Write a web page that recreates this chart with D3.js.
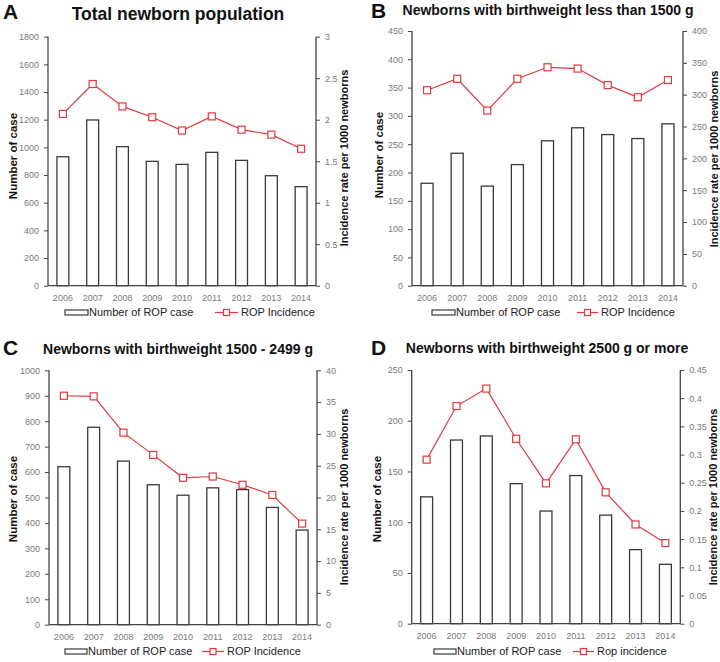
<!DOCTYPE html>
<html><head><meta charset="utf-8">
<script src="https://cdn.jsdelivr.net/npm/d3@7"></script>
<style>
body{margin:0;background:#fff;}
text{font-family:"Liberation Sans",Arial,sans-serif;}
</style></head>
<body><svg id="c" width="720" height="662"></svg>
<script>
const years = ["2006","2007","2008","2009","2010","2011","2012","2013","2014"];

const casesA = [932, 1198, 1005, 899, 877, 964, 906, 795, 716];
const rateA  = [2.07, 2.43, 2.16, 2.03, 1.87, 2.04, 1.88, 1.82, 1.65];
const leftTicksA  = [0,200,400,600,800,1000,1200,1400,1600,1800];
const rightTicksA = [0,0.5,1,1.5,2,2.5,3];

const casesB = [181, 234, 176, 214, 256, 279, 267, 260, 286];
const rateB  = [307, 325, 275, 325, 343, 341, 315, 296, 323];
const leftTicksB  = [0,50,100,150,200,250,300,350,400,450];
const rightTicksB = [0,50,100,150,200,250,300,350,400];

const casesC = [621, 776, 643, 550, 509, 538, 531, 461, 372];
const rateC  = [36.0, 35.9, 30.2, 26.7, 23.1, 23.3, 22.0, 20.4, 15.9];
const leftTicksC  = [0,100,200,300,400,500,600,700,800,900,1000];
const rightTicksC = [0,5,10,15,20,25,30,35,40];

const casesD = [125, 181, 185, 138, 111, 146, 107, 73, 58.5];
const rateD  = [0.291, 0.386, 0.417, 0.328, 0.249, 0.327, 0.233, 0.176, 0.143];
const leftTicksD  = [0,50,100,150,200,250];
const rightTicksD = [0,0.05,0.1,0.15,0.2,0.25,0.3,0.35,0.4,0.45];

const panels = [
 {letter:"A", title:"Total newborn population", cases:casesA, rate:rateA, lt:leftTicksA, rt:rightTicksA,
  legend2:"ROP Incidence",
  L:48, R:316, T:36.7, B:285.7, titleX:178, titleY:20, titleSize:17.5, letterX:3, letterY:19,
  lTitleX:17, lTitleY:156, rTitleX:348, rTitleY:158, legY:316, legX:[65,89,215,240]},
 {letter:"B", title:"Newborns with birthweight less than 1500 g", cases:casesB, rate:rateB, lt:leftTicksB, rt:rightTicksB,
  legend2:"ROP Incidence",
  L:412, R:683, T:31, B:285.7, titleX:548, titleY:15, titleSize:14, letterX:371, letterY:18,
  lTitleX:383, lTitleY:155, rTitleX:718, rTitleY:159, legY:316, legX:[432,456,577,600]},
 {letter:"C", title:"Newborns with birthweight 1500 - 2499 g", cases:casesC, rate:rateC, lt:leftTicksC, rt:rightTicksC,
  legend2:"ROP Incidence",
  L:49, R:317, T:370.3, B:624.7, titleX:178, titleY:354, titleSize:14, letterX:3, letterY:355,
  lTitleX:17, lTitleY:499, rTitleX:348, rTitleY:497, legY:655, legX:[65,88,202,226]},
 {letter:"D", title:"Newborns with birthweight 2500 g or more", cases:casesD, rate:rateD, lt:leftTicksD, rt:rightTicksD,
  legend2:"Rop incidence",
  L:411.7, R:680.3, T:370, B:623.7, titleX:547, titleY:353, titleSize:14, letterX:371, letterY:355,
  lTitleX:381, lTitleY:499, rTitleX:717, rTitleY:497, legY:655, legX:[434,457,573,596]}
];

const svg = d3.select("#c");
const axisCol = "#444", tickTextCol = "#7a7a7a", red = "#e0393e";

panels.forEach(p => {
  const g = svg.append("g");
  const x = d3.scaleBand().domain(years).range([p.L, p.R]).paddingInner(0.6).paddingOuter(0.3);
  const yL = d3.scaleLinear().domain([0, d3.max(p.lt)]).range([p.B, p.T]);
  const yR = d3.scaleLinear().domain([0, d3.max(p.rt)]).range([p.B, p.T]);

  // bars
  g.selectAll("rect.bar").data(p.cases).enter().append("rect")
    .attr("x", (d,i) => x(years[i])).attr("width", x.bandwidth())
    .attr("y", d => yL(d)).attr("height", d => p.B - yL(d))
    .attr("fill", "#fff").attr("stroke", "#3a3a3a").attr("stroke-width", 1.3);

  // axes
  const la = g.append("g").attr("transform", `translate(${p.L},0)`)
    .call(d3.axisLeft(yL).tickValues(p.lt).tickSize(4).tickPadding(5).tickFormat(d3.format("")));
  const ra = g.append("g").attr("transform", `translate(${p.R},0)`)
    .call(d3.axisRight(yR).tickValues(p.rt).tickSize(4).tickPadding(5).tickFormat(d => String(+d.toFixed(2))));
  const xa = g.append("g").attr("transform", `translate(0,${p.B})`)
    .call(d3.axisBottom(x).tickSize(0).tickPadding(9));
  [la, ra].forEach(a => {
    a.select(".domain").attr("stroke", axisCol).attr("stroke-width", 1.3).attr("d", `M0,${p.T}V${p.B}`);
    a.selectAll(".tick line").attr("stroke", axisCol);
  });
  xa.select(".domain").attr("stroke", axisCol).attr("stroke-width", 1.3).attr("d", `M${p.L},0H${p.R}`);
  g.selectAll(".tick text").attr("fill", tickTextCol).attr("font-size", 9)
    .attr("font-family", "'Liberation Sans',Arial,sans-serif");

  // line
  const line = d3.line().x((d,i) => x(years[i]) + x.bandwidth()/2).y(d => yR(d));
  g.append("path").datum(p.rate).attr("d", line).attr("fill", "none")
    .attr("stroke", red).attr("stroke-width", 1.2);
  g.selectAll("rect.pt").data(p.rate).enter().append("rect")
    .attr("x", (d,i) => x(years[i]) + x.bandwidth()/2 - 3.5).attr("y", d => yR(d) - 3.5)
    .attr("width", 7).attr("height", 7).attr("fill", "#fff").attr("stroke", red).attr("stroke-width", 1.2);

  // titles
  g.append("text").attr("x", p.letterX).attr("y", p.letterY).text(p.letter)
    .attr("font-size", 21).attr("font-weight", "bold").attr("fill", "#111");
  g.append("text").attr("x", p.titleX).attr("y", p.titleY).text(p.title)
    .attr("text-anchor", "middle").attr("font-size", p.titleSize).attr("font-weight", "bold").attr("fill", "#111");
  g.append("text").attr("transform", `translate(${p.lTitleX},${p.lTitleY}) rotate(-90)`)
    .attr("text-anchor", "middle").attr("font-size", 11.5).attr("font-weight", "bold").attr("fill", "#111")
    .text("Number of case");
  g.append("text").attr("transform", `translate(${p.rTitleX},${p.rTitleY}) rotate(-90)`)
    .attr("text-anchor", "middle").attr("font-size", 11).attr("font-weight", "bold").attr("fill", "#111")
    .text("Incidence rate per 1000 newborns");

  // legend
  const [bx, tx1, mx, tx2] = p.legX;
  g.append("rect").attr("x", bx).attr("y", p.legY - 6).attr("width", tx1 - bx - 1).attr("height", 5)
    .attr("fill", "#fff").attr("stroke", "#3a3a3a").attr("stroke-width", 1.2);
  g.append("text").attr("x", tx1).attr("y", p.legY).text("Number of ROP case")
    .attr("font-size", 11).attr("fill", "#222");
  g.append("line").attr("x1", mx).attr("x2", tx2 - 2).attr("y1", p.legY - 3.5).attr("y2", p.legY - 3.5)
    .attr("stroke", red).attr("stroke-width", 1.2);
  g.append("rect").attr("x", (mx + tx2 - 2)/2 - 3).attr("y", p.legY - 6.5).attr("width", 6).attr("height", 6)
    .attr("fill", "#fff").attr("stroke", red).attr("stroke-width", 1.2);
  g.append("text").attr("x", tx2 + 1).attr("y", p.legY).text(p.legend2)
    .attr("font-size", 11).attr("fill", "#222");
});
</script></body></html>
